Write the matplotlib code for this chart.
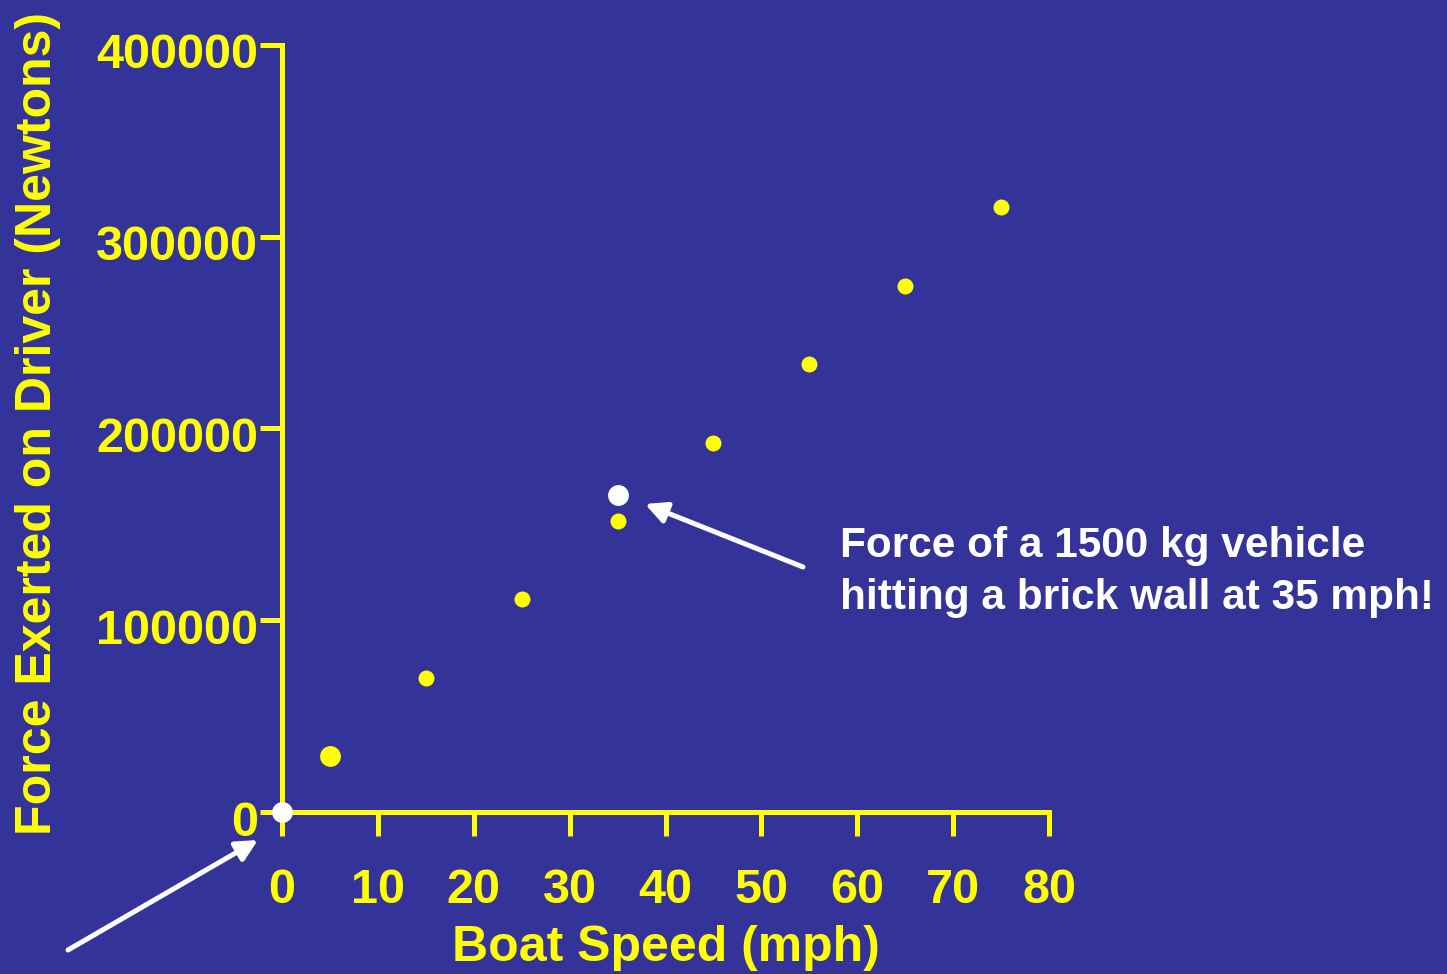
import matplotlib
matplotlib.use("Agg")
import matplotlib.pyplot as plt
from matplotlib.transforms import ScaledTranslation

# data
speed = [5, 15, 25, 35, 45, 55, 65, 75]
force = [29000, 70000, 111000, 152000, 192500, 233500, 274500, 315500]
marker_size = [15, 11.5, 11.5, 11.5, 11.5, 11.5, 11.5, 11.5]
highlight_speed = [0, 35]
highlight_force = [0, 165500]
xticks = [0, 10, 20, 30, 40, 50, 60, 70, 80]
yticks = [0, 100000, 200000, 300000, 400000]

bg = "#333399"
yellow = "#FFFF00"
W, H = 1447, 974

plt.rcParams['font.family'] = ['Liberation Sans', 'DejaVu Sans']
plt.rcParams['font.weight'] = 'bold'

fig = plt.figure(figsize=(W / 100, H / 100), dpi=100, facecolor=bg)
ax = fig.add_axes([282 / W, 162 / H, 767 / W, 767 / H])
ax.set_facecolor(bg)

for x, y, s in zip(speed, force, marker_size):
    ax.plot(x, y, 'o', color=yellow, markersize=s, markeredgewidth=0, clip_on=False, zorder=3)
ax.plot(highlight_speed, highlight_force, 'o', color='white', markersize=15,
        markeredgewidth=0, clip_on=False, zorder=4, linestyle='none')

ax.set_xlim(0, 80)
ax.set_ylim(0, 400000)
ax.set_xticks(xticks)
ax.set_yticks(yticks)
ax.set_xticklabels([str(t) for t in xticks])
ax.set_yticklabels([str(t) for t in yticks])

for side in ['top', 'right']:
    ax.spines[side].set_visible(False)
for side in ['left', 'bottom']:
    ax.spines[side].set_color(yellow)
    ax.spines[side].set_linewidth(3.6)
    ax.spines[side].set_zorder(2)

ax.tick_params(axis='x', colors=yellow, length=17, width=3.6, direction='out',
               labelsize=35, pad=23)
ax.tick_params(axis='y', colors=yellow, length=16, width=3.6, direction='out',
               labelsize=35, pad=1)
shift = ScaledTranslation(0, -6 / 100, fig.dpi_scale_trans)
for lab in ax.get_yticklabels():
    lab.set_transform(lab.get_transform() + shift)
for lab in ax.get_xticklabels() + ax.get_yticklabels():
    lab.set_fontweight('bold')

ax.set_xlabel("Boat Speed (mph)", color=yellow, fontsize=36, fontweight='bold', va='center')
ax.xaxis.set_label_coords(0.5, -0.177)
ax.set_ylabel("Force Exerted on Driver (Newtons)", color=yellow, fontsize=36,
              fontweight='bold', va='center')
ax.yaxis.set_label_coords(-0.318, 0.506)

# annotations
fig.text(840 / W, (H - 572) / H, "Force of a 1500 kg vehicle\nhitting a brick wall at 35 mph!",
         color='white', fontsize=30.5, fontweight='bold', ha='left', va='center', linespacing=1.38)
arrow = dict(arrowstyle='-|>', color='white', lw=3.6, mutation_scale=32, shrinkA=0, shrinkB=0)
ax.annotate("", xy=(645 / W, (H - 504) / H), xytext=(803 / W, (H - 567) / H),
            xycoords='figure fraction', textcoords='figure fraction', arrowprops=arrow)
ax.annotate("", xy=(258 / W, (H - 840) / H), xytext=(68 / W, (H - 950) / H),
            xycoords='figure fraction', textcoords='figure fraction', arrowprops=arrow)

fig.savefig("out.png", dpi=100, facecolor=bg)
